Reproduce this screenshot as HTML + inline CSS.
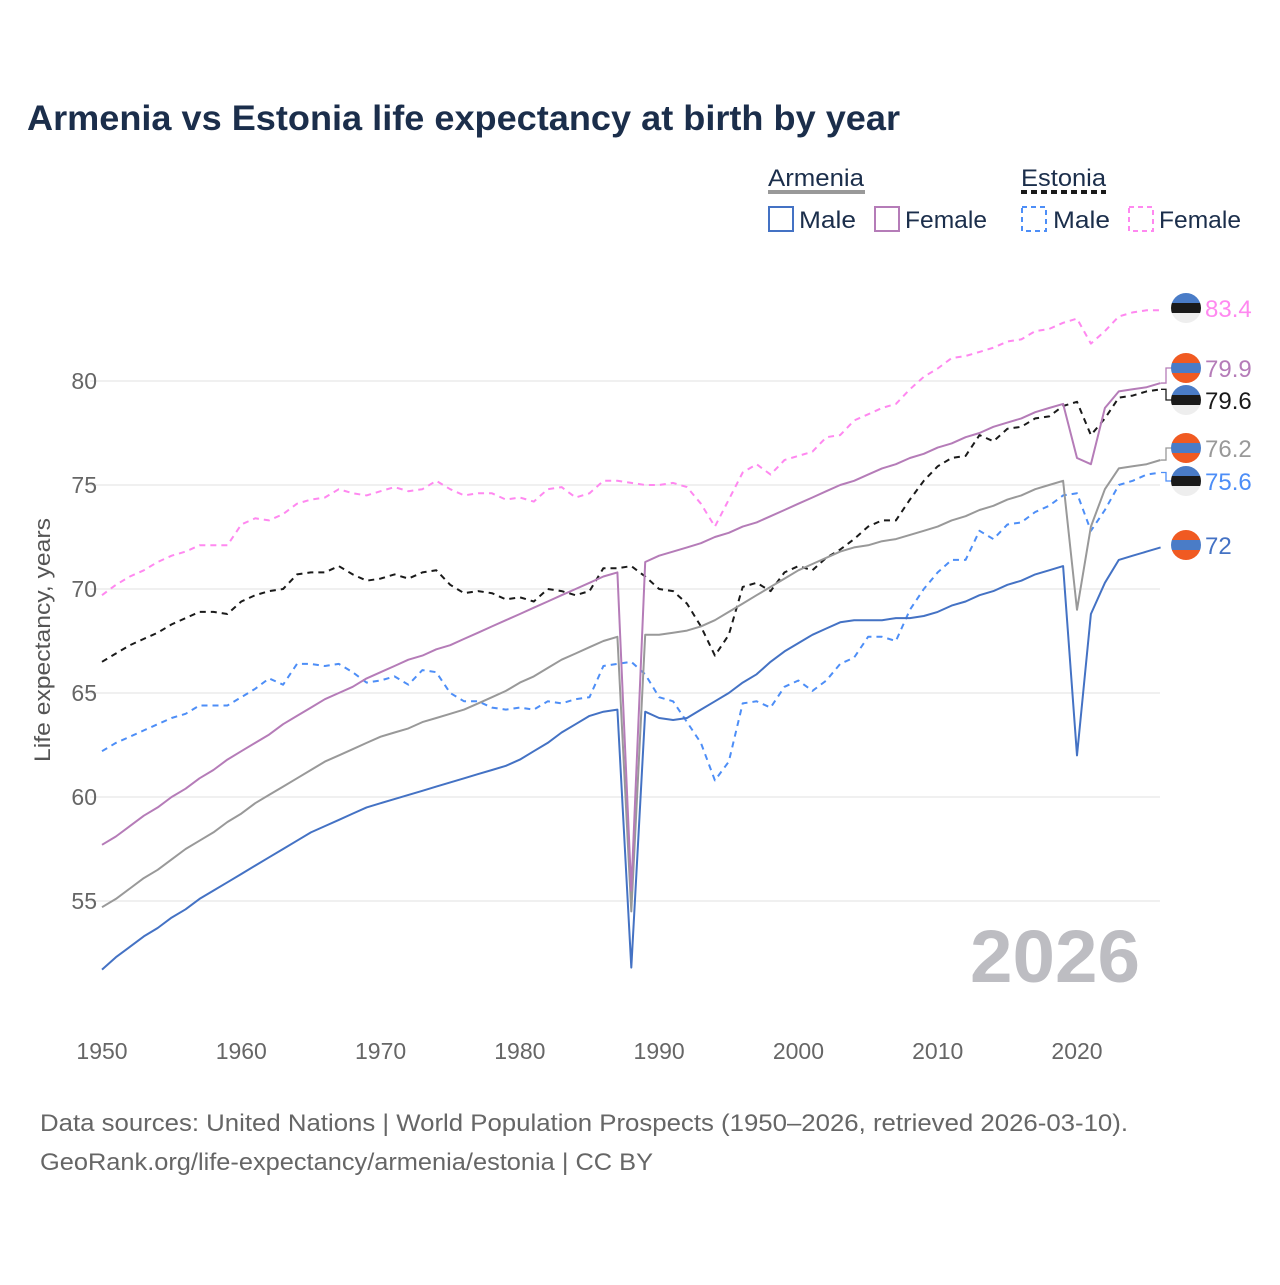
<!DOCTYPE html>
<html><head><meta charset="utf-8">
<style>
html,body{margin:0;padding:0;background:#fff;}
body{width:1280px;height:1280px;overflow:hidden;font-family:"Liberation Sans",sans-serif;}
svg text{font-family:"Liberation Sans",sans-serif;}
</style></head>
<body>
<svg id="chart" width="1280" height="1280" xmlns="http://www.w3.org/2000/svg">
<text x="27" y="130" font-size="35" font-weight="bold" fill="#1b2e4b" textLength="873" lengthAdjust="spacingAndGlyphs">Armenia vs Estonia life expectancy at birth by year</text>
<g>
  <text x="768" y="186" font-size="24" fill="#1b2e4b" textLength="96" lengthAdjust="spacingAndGlyphs">Armenia</text>
  <line x1="768" y1="192" x2="865" y2="192" stroke="#999" stroke-width="4"/>
  <text x="1021" y="186" font-size="24" fill="#1b2e4b" textLength="85" lengthAdjust="spacingAndGlyphs">Estonia</text>
  <line x1="1021" y1="192" x2="1106" y2="192" stroke="#1a1a1a" stroke-width="4" stroke-dasharray="6,4"/>
  <g><rect x="769" y="207" width="24" height="24" fill="none" stroke="#4472c4" stroke-width="2"/><text x="799" y="228" font-size="24" fill="#1b2e4b" textLength="57" lengthAdjust="spacingAndGlyphs">Male</text></g>
  <g><rect x="875" y="207" width="24" height="24" fill="none" stroke="#b57cb8" stroke-width="2"/><text x="905" y="228" font-size="24" fill="#1b2e4b" textLength="82" lengthAdjust="spacingAndGlyphs">Female</text></g>
  <g><rect x="1022" y="207" width="24" height="24" fill="none" stroke="#4d8ef7" stroke-width="2" stroke-dasharray="5,4"/><text x="1053" y="228" font-size="24" fill="#1b2e4b" textLength="57" lengthAdjust="spacingAndGlyphs">Male</text></g>
  <g><rect x="1129" y="207" width="24" height="24" fill="none" stroke="#ff88f0" stroke-width="2" stroke-dasharray="5,4"/><text x="1159" y="228" font-size="24" fill="#1b2e4b" textLength="82" lengthAdjust="spacingAndGlyphs">Female</text></g>
</g>
<g id="grid"></g>
<text x="1140" y="982" font-size="74" font-weight="bold" fill="#bdbdc2" text-anchor="end" textLength="170" lengthAdjust="spacingAndGlyphs">2026</text>
<g id="series"></g>
<g id="labels"></g>
<text transform="translate(50,640) rotate(-90)" font-size="22" fill="#555" text-anchor="middle" textLength="244" lengthAdjust="spacingAndGlyphs">Life expectancy, years</text>
<text x="40" y="1131" font-size="24" fill="#666" textLength="1088" lengthAdjust="spacingAndGlyphs">Data sources: United Nations | World Population Prospects (1950–2026, retrieved 2026-03-10).</text>
<text x="40" y="1170" font-size="24" fill="#666" textLength="613" lengthAdjust="spacingAndGlyphs">GeoRank.org/life-expectancy/armenia/estonia | CC BY</text>
</svg>
<script>
const years = Array.from({length:77},(_, i)=>1950+i);
const xTicks = [1950,1960,1970,1980,1990,2000,2010,2020];
const yTicks = [55,60,65,70,75,80];
const amMale = [51.7,52.3,52.8,53.3,53.7,54.2,54.6,55.1,55.5,55.9,56.3,56.7,57.1,57.5,57.9,58.3,58.6,58.9,59.2,59.5,59.7,59.9,60.1,60.3,60.5,60.7,60.9,61.1,61.3,61.5,61.8,62.2,62.6,63.1,63.5,63.9,64.1,64.2,51.8,64.1,63.8,63.7,63.8,64.2,64.6,65.0,65.5,65.9,66.5,67.0,67.4,67.8,68.1,68.4,68.5,68.5,68.5,68.6,68.6,68.7,68.9,69.2,69.4,69.7,69.9,70.2,70.4,70.7,70.9,71.1,62.0,68.8,70.3,71.4,71.6,71.8,72.0];
const amTotal = [54.7,55.1,55.6,56.1,56.5,57.0,57.5,57.9,58.3,58.8,59.2,59.7,60.1,60.5,60.9,61.3,61.7,62.0,62.3,62.6,62.9,63.1,63.3,63.6,63.8,64.0,64.2,64.5,64.8,65.1,65.5,65.8,66.2,66.6,66.9,67.2,67.5,67.7,54.5,67.8,67.8,67.9,68.0,68.2,68.5,68.9,69.3,69.7,70.1,70.5,70.9,71.2,71.5,71.8,72.0,72.1,72.3,72.4,72.6,72.8,73.0,73.3,73.5,73.8,74.0,74.3,74.5,74.8,75.0,75.2,69.0,73.0,74.8,75.8,75.9,76.0,76.2];
const amFemale = [57.7,58.1,58.6,59.1,59.5,60.0,60.4,60.9,61.3,61.8,62.2,62.6,63.0,63.5,63.9,64.3,64.7,65.0,65.3,65.7,66.0,66.3,66.6,66.8,67.1,67.3,67.6,67.9,68.2,68.5,68.8,69.1,69.4,69.7,70.0,70.3,70.6,70.8,55.5,71.3,71.6,71.8,72.0,72.2,72.5,72.7,73.0,73.2,73.5,73.8,74.1,74.4,74.7,75.0,75.2,75.5,75.8,76.0,76.3,76.5,76.8,77.0,77.3,77.5,77.8,78.0,78.2,78.5,78.7,78.9,76.3,76.0,78.7,79.5,79.6,79.7,79.9];
const eeTotal = [66.5,66.9,67.3,67.6,67.9,68.3,68.6,68.9,68.9,68.8,69.4,69.7,69.9,70.0,70.7,70.8,70.8,71.1,70.7,70.4,70.5,70.7,70.5,70.8,70.9,70.2,69.8,69.9,69.8,69.5,69.6,69.4,70.0,69.9,69.7,69.9,71.0,71.0,71.1,70.6,70.0,69.9,69.3,68.2,66.8,67.8,70.1,70.3,69.9,70.8,71.1,70.9,71.5,71.9,72.4,73.0,73.3,73.3,74.3,75.2,75.9,76.3,76.4,77.4,77.1,77.7,77.8,78.2,78.3,78.8,79.0,77.4,78.2,79.2,79.3,79.5,79.6];
const eeMale = [62.2,62.6,62.9,63.2,63.5,63.8,64.0,64.4,64.4,64.4,64.8,65.2,65.7,65.4,66.4,66.4,66.3,66.4,66.0,65.5,65.6,65.8,65.4,66.1,66.0,65.0,64.6,64.6,64.3,64.2,64.3,64.2,64.6,64.5,64.7,64.8,66.3,66.4,66.5,65.9,64.8,64.6,63.6,62.6,60.8,61.7,64.5,64.6,64.3,65.3,65.6,65.1,65.6,66.4,66.7,67.7,67.7,67.5,69.0,70.0,70.8,71.4,71.4,72.8,72.4,73.1,73.2,73.7,74.0,74.5,74.6,72.8,73.8,75.0,75.2,75.5,75.6];
const eeFemale = [69.7,70.2,70.6,70.9,71.3,71.6,71.8,72.1,72.1,72.1,73.1,73.4,73.3,73.6,74.1,74.3,74.4,74.8,74.6,74.5,74.7,74.9,74.7,74.8,75.2,74.8,74.5,74.6,74.6,74.3,74.4,74.2,74.8,74.9,74.4,74.6,75.2,75.2,75.1,75.0,75.0,75.1,74.9,74.1,73.0,74.3,75.6,76.0,75.5,76.2,76.4,76.6,77.3,77.4,78.1,78.4,78.7,78.9,79.6,80.2,80.6,81.1,81.2,81.4,81.6,81.9,82.0,82.4,82.5,82.8,83.0,81.8,82.4,83.1,83.3,83.4,83.4];

const NS='http://www.w3.org/2000/svg';
const X = y => 102 + (y-1950)*(975/70);
const Y = v => 381 - (v-80)*20.8;
function mk(tag, attrs, parent){const e=document.createElementNS(NS,tag);for(const k in attrs)e.setAttribute(k,attrs[k]);parent.appendChild(e);return e;}

const grid=document.getElementById('grid');
yTicks.forEach(t=>{
  const l=mk('line',{x1:90,x2:1160,y1:Y(t),y2:Y(t),stroke:'#e6e6e6','stroke-width':1.3},grid);
  
  
  const tx=mk('text',{x:97,y:Y(t)+8,'font-size':23,fill:'#666','text-anchor':'end'},grid);
  tx.textContent=t;
  
  
});
xTicks.forEach(t=>{
  const tx=mk('text',{x:X(t),y:1059,'font-size':23,fill:'#666','text-anchor':'middle'},grid);
  tx.textContent=t;
  
  
});

const seriesG=document.getElementById('series');
const defs=[
  ['estonia-female-line',eeFemale,'#ff88f0','6,5'],
  ['estonia-male-line',eeMale,'#4d8ef7','6,5'],
  ['estonia-total-line',eeTotal,'#1a1a1a','6,5'],
  ['armenia-total-line',amTotal,'#999999',''],
  ['armenia-female-line',amFemale,'#b57cb8',''],
  ['armenia-male-line',amMale,'#4472c4','']
];
defs.forEach(d=>{
  const pts=d[1].map((v,i)=>X(years[i]).toFixed(1)+','+Y(v).toFixed(1)).join(' ');
  const p=mk('polyline',{points:pts,fill:'none',stroke:d[2],'stroke-width':2,'stroke-linejoin':'round'},seriesG);
  if(d[3])p.setAttribute('stroke-dasharray',d[3]);
  
  
});

const labels=document.getElementById('labels');
const endLabels=[
  [eeFemale,'#ff88f0',308,'ee'],
  [amFemale,'#b57cb8',368,'am'],
  [eeTotal,'#1a1a1a',400,'ee'],
  [amTotal,'#999999',448,'am'],
  [eeMale,'#4d8ef7',481,'ee'],
  [amMale,'#4472c4',545,'am']
];
let ci=0;
endLabels.forEach(e=>{
  const v=e[0][e[0].length-1];
  const yv=Y(v), ly=e[2];
  const g=mk('g',{},labels);
  
  
  if(Math.abs(yv-ly)>3){
    mk('polyline',{points:`1161,${yv} 1166,${yv} 1166,${ly} 1172,${ly}`,fill:'none',stroke:e[1],'stroke-width':1.3},g);
  }
  const cx=1186, r=15, id='c'+(ci++);
  const cp=mk('clipPath',{id:id},g); mk('circle',{cx:cx,cy:ly,r:r},cp);
  const fg=mk('g',{'clip-path':`url(#${id})`},g);
  const cols=e[3]==='ee'?['#4a7cc7','#1a1a1a','#eeeeee']:['#f05a22','#4a7cc7','#f05a22'];
  cols.forEach((c,k)=>mk('rect',{x:cx-r,y:ly-r+k*10,width:30,height:10,fill:c},fg));
  const t=mk('text',{x:1205,y:ly+9,'font-size':24,fill:e[1]},g);
  t.textContent=String(v);
});
</script>
</body></html>
